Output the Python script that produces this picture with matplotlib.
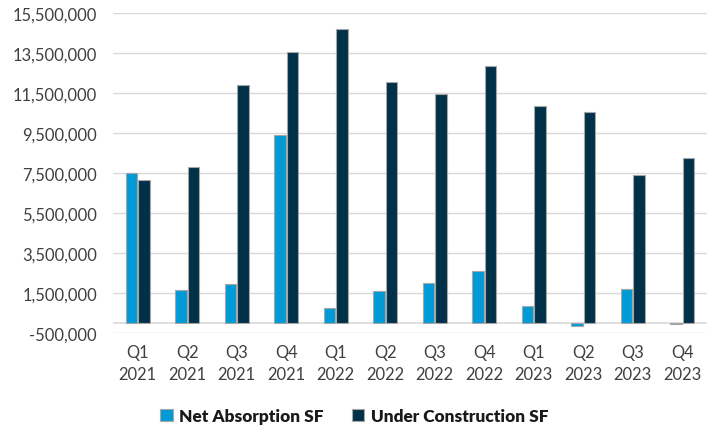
import matplotlib.pyplot as plt
import numpy as np

plt.rcParams['font.family'] = ['Lato', 'DejaVu Sans']

quarters = ["Q1\n2021", "Q2\n2021", "Q3\n2021", "Q4\n2021",
            "Q1\n2022", "Q2\n2022", "Q3\n2022", "Q4\n2022",
            "Q1\n2023", "Q2\n2023", "Q3\n2023", "Q4\n2023"]
net_absorption = [7490000, 1650000, 1930000, 9380000, 770000, 1580000,
                  1980000, 2580000, 830000, -170000, 1720000, -70000]
under_construction = [7170000, 7780000, 11920000, 13550000, 14700000, 12050000,
                      11430000, 12870000, 10830000, 10550000, 7380000, 8250000]
y_ticks = list(range(-500000, 15500001, 2000000))


def fit_size(fig, text, width_px, weight='normal'):
    # font size that makes text about width_px wide
    r = fig.canvas.get_renderer()
    t = fig.text(0, 0, text, fontsize=10, fontweight=weight)
    w = t.get_window_extent(renderer=r).width
    t.remove()
    return 10 * width_px / w


def main():
    fig = plt.figure(figsize=(7.17, 4.27), dpi=100)
    ax = fig.add_axes([0.1576, 0.2178, 0.8284, 0.7494])

    tick_size = fit_size(fig, "15,500,000", 84)
    leg_size = fit_size(fig, "Net Absorption SF", 145, 'heavy')

    x = np.arange(len(quarters))
    w = 0.235
    ax.bar(x - w / 2 - 0.01, net_absorption, w, color='#009bd6',
           edgecolor='#a6a6a6', linewidth=0.8, label='Net Absorption SF', zorder=3)
    ax.bar(x + w / 2 + 0.01, under_construction, w, color='#003149',
           edgecolor='#a6a6a6', linewidth=0.8, label='Under Construction SF', zorder=3)

    ax.set_ylim(-500000, 15500000)
    ax.set_xlim(-0.5, len(quarters) - 0.5)
    ax.set_yticks(y_ticks)
    ax.set_yticklabels([f"{v:,}" for v in y_ticks])
    ax.yaxis.grid(True, color='#d9d9d9', linewidth=1, zorder=0)
    ax.axhline(0, color='#d9d9d9', linewidth=1.2, zorder=2)
    for s in ax.spines.values():
        s.set_visible(False)
    ax.tick_params(length=0, labelsize=tick_size, colors='#404040')
    ax.tick_params(axis='y', pad=16 * 72 / 100)
    ax.tick_params(axis='x', pad=8)
    ax.set_xticks(x)
    ax.set_xticklabels(quarters, linespacing=1.45)

    fig.legend(loc='center', bbox_to_anchor=(0.494, 0.023), ncol=2, frameon=False,
               prop={'weight': 'heavy', 'size': leg_size}, handlelength=0.75,
               handleheight=0.75, handletextpad=0.35, columnspacing=1.6,
               labelcolor='#1a1a1a')
    fig.savefig('out.png', dpi=100)


if __name__ == "__main__":
    main()
